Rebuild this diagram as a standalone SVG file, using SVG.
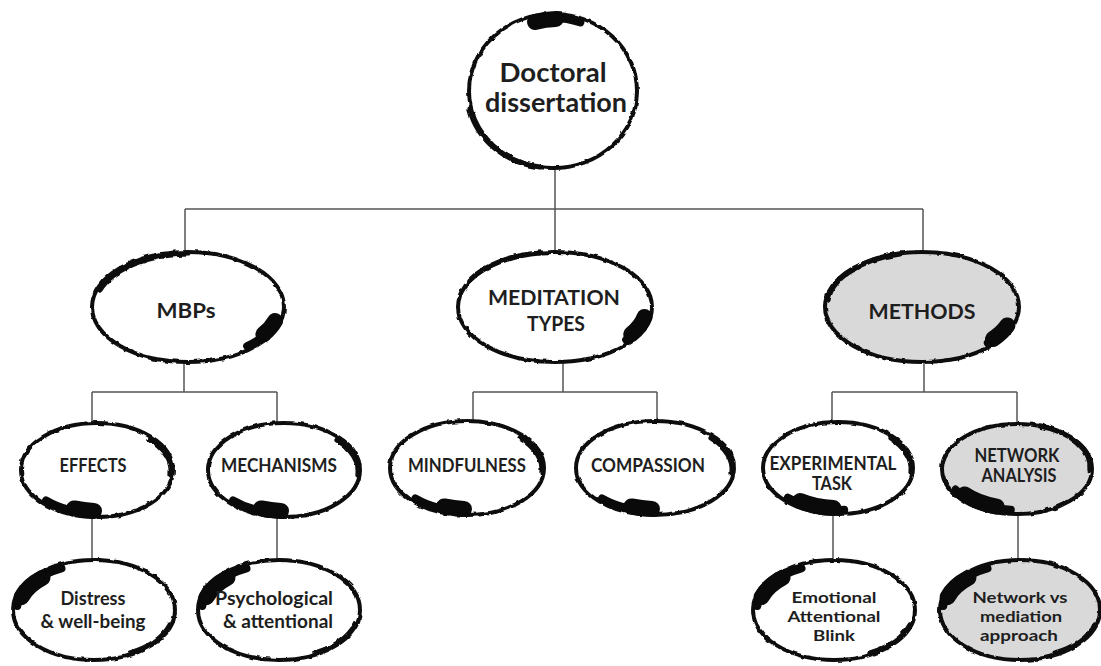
<svg xmlns="http://www.w3.org/2000/svg" width="1101" height="666" viewBox="0 0 1101 666">
  <defs>
    <!-- roughens thin ink rings into a dry-brush edge -->
    <filter id="brush" x="-10%" y="-10%" width="120%" height="120%">
      <feTurbulence type="fractalNoise" baseFrequency="0.14" numOctaves="2" seed="7" result="noise"/>
      <feDisplacementMap in="SourceGraphic" in2="noise" scale="3.2" xChannelSelector="R" yChannelSelector="G"/>
    </filter>
  </defs>
  <style>
    .bg { fill: #ffffff; }
    .white { fill: #ffffff; }
    .grey { fill: #d9d9d9; }
    .ring { fill: none; stroke: #111111; stroke-width: 4; }
    .blob { fill: none; stroke: #0a0a0a; stroke-linecap: round; }
    .thick { stroke-width: 16; }
    .mid { stroke-width: 8; }
    .thin { stroke-width: 5.2; }
    .brush { filter: url(#brush); }
    .connector { fill: none; stroke: #555555; stroke-width: 1.5; }
    .t { font-family: Lato, "Liberation Sans", sans-serif; font-weight: 700; fill: #1e1e1e; text-anchor: middle; }
    .t1 { font-size: 26px; }
    .t2 { font-size: 21px; }
    .t3 { font-size: 18px; }
    .t4 { font-size: 16px; }
  </style>

  <rect class="bg" x="0" y="0" width="1101" height="666"/>

  <!-- tree connectors -->
  <g id="connectors">
    <path class="connector" d="M555 168 V209 M185 209 H923 M185 209 V253 M555 209 V253 M923 209 V253"/>
    <path class="connector" d="M184 362 V392 M92 392 H277 M92 392 V422 M277 392 V422"/>
    <path class="connector" d="M563 362 V392 M473 392 H657 M473 392 V422 M657 392 V422"/>
    <path class="connector" d="M924 362 V392 M832 392 H1017 M832 392 V422 M1017 392 V424"/>
    <path class="connector" d="M92 517 V560 M277 517 V560 M833 513 V560 M1018 513 V560"/>
  </g>

  <!-- root -->
  <g id="node-doctoral-dissertation">
    <ellipse class="white" cx="553" cy="91" rx="84" ry="77"/>
    <g class="brush">
      <ellipse class="ring" cx="553" cy="91" rx="84" ry="77"/>
      <path class="blob thin" d="M470 110 A82 75 0 0 0 540 167"/>
    </g>
    <g>
      <path class="blob mid" d="M532.3 20.5 A80 73 0 0 1 580.4 22.4"/>
      <path class="blob thick" d="M535 22 A79 72 0 0 1 555.8 19.0"/>
    </g>
    <text class="t t1" x="553" y="82" textLength="107" lengthAdjust="spacingAndGlyphs">Doctoral</text>
    <text class="t t1" x="556" y="112" textLength="142" lengthAdjust="spacingAndGlyphs">dissertation</text>
  </g>

  <!-- second level -->
  <g id="node-mbps">
    <ellipse class="white" cx="188" cy="307" rx="96" ry="55"/>
    <g class="brush">
      <ellipse class="ring" cx="188" cy="307" rx="96" ry="55"/>
      <path class="blob thin" d="M100 290 A94 53 0 0 1 188 254"/>
    </g>
    <g>
      <path class="blob mid" d="M276.9 320.2 A92 51 0 0 1 247.1 346.1"/>
      <path class="blob thick" d="M275 321 A90 49 0 0 1 263.4 334.3"/>
    </g>
    <text class="t t2" x="186" y="318" textLength="59" lengthAdjust="spacingAndGlyphs">MBPs</text>
  </g>

  <g id="node-meditation-types">
    <ellipse class="white" cx="555" cy="307" rx="97" ry="55"/>
    <g class="brush">
      <ellipse class="ring" cx="555" cy="307" rx="97" ry="55"/>
      <path class="blob thin" d="M470 280 A95 53 0 0 1 540 253"/>
    </g>
    <g>
      <path class="blob mid" d="M646.6 315.9 A93 51 0 0 1 626.2 339.8"/>
      <path class="blob thick" d="M644.6 316.9 A91 49 0 0 1 631.2 334.3"/>
    </g>
    <text class="t t2" x="554" y="305" textLength="132" lengthAdjust="spacingAndGlyphs">MEDITATION</text>
    <text class="t t2" x="556" y="331" textLength="58" lengthAdjust="spacingAndGlyphs">TYPES</text>
  </g>

  <g id="node-methods">
    <ellipse class="grey" cx="922" cy="307" rx="97" ry="55"/>
    <g class="brush">
      <ellipse class="ring" cx="922" cy="307" rx="97" ry="55"/>
      <path class="blob thin" d="M828 300 A95 53 0 0 1 900 254"/>
    </g>
    <g>
      <path class="blob mid" d="M1009.4 324.4 A93 51 0 0 1 987.8 343.1"/>
      <path class="blob thick" d="M1007.4 325.4 A91 49 0 0 1 993 339"/>
    </g>
    <text class="t t2" x="922" y="319" textLength="107" lengthAdjust="spacingAndGlyphs">METHODS</text>
  </g>

  <!-- third level -->
  <g id="node-effects">
    <ellipse class="white" cx="97" cy="470" rx="76" ry="47"/>
    <g class="brush">
      <ellipse class="ring" cx="97" cy="470" rx="76" ry="47"/>
      <path class="blob thin" d="M150 440 A74 45 0 0 1 171 475"/>
    </g>
    <g>
      <path class="blob mid" d="M97 513 A72 43 0 0 1 46.1 500.4"/>
      <path class="blob thick" d="M94 511 A70 41 0 0 1 74 508.4"/>
    </g>
    <text class="t t3" x="93" y="472" textLength="67" lengthAdjust="spacingAndGlyphs">EFFECTS</text>
  </g>

  <g id="node-mechanisms">
    <ellipse class="white" cx="284" cy="470" rx="76" ry="47"/>
    <g class="brush">
      <ellipse class="ring" cx="284" cy="470" rx="76" ry="47"/>
      <path class="blob thin" d="M337 440 A74 45 0 0 1 358 475"/>
    </g>
    <g>
      <path class="blob mid" d="M284 513 A72 43 0 0 1 233.1 500.4"/>
      <path class="blob thick" d="M281 511 A70 41 0 0 1 261 508.4"/>
    </g>
    <text class="t t3" x="279" y="472" textLength="116" lengthAdjust="spacingAndGlyphs">MECHANISMS</text>
  </g>

  <g id="node-mindfulness">
    <ellipse class="white" cx="467" cy="468" rx="77" ry="47"/>
    <g class="brush">
      <ellipse class="ring" cx="467" cy="468" rx="77" ry="47"/>
      <path class="blob thin" d="M520 438 A75 45 0 0 1 542 473"/>
    </g>
    <g>
      <path class="blob mid" d="M467 511 A73 43 0 0 1 415.4 498.4"/>
      <path class="blob thick" d="M464 509 A71 41 0 0 1 444 506.4"/>
    </g>
    <text class="t t3" x="467" y="472" textLength="118" lengthAdjust="spacingAndGlyphs">MINDFULNESS</text>
  </g>

  <g id="node-compassion">
    <ellipse class="white" cx="655" cy="468" rx="79" ry="47"/>
    <g class="brush">
      <ellipse class="ring" cx="655" cy="468" rx="79" ry="47"/>
      <path class="blob thin" d="M710 438 A77 45 0 0 1 732 473"/>
    </g>
    <g>
      <path class="blob mid" d="M655 511 A75 43 0 0 1 602 498.4"/>
      <path class="blob thick" d="M652 509 A73 41 0 0 1 631.4 506.4"/>
    </g>
    <text class="t t3" x="648" y="472" textLength="114" lengthAdjust="spacingAndGlyphs">COMPASSION</text>
  </g>

  <g id="node-experimental-task">
    <ellipse class="white" cx="838" cy="468" rx="75" ry="46"/>
    <g class="brush">
      <ellipse class="ring" cx="838" cy="468" rx="75" ry="46"/>
      <path class="blob thin" d="M890 438 A73 44 0 0 1 911 473"/>
    </g>
    <g>
      <path class="blob mid" d="M844.2 509.8 A71 42 0 0 1 787.8 497.7"/>
      <path class="blob thick" d="M833.5 508 A69 40 0 0 1 800 501"/>
    </g>
    <text class="t t3" x="833" y="470" textLength="127" lengthAdjust="spacingAndGlyphs">EXPERIMENTAL</text>
    <text class="t t3" x="832" y="490" textLength="40" lengthAdjust="spacingAndGlyphs">TASK</text>
  </g>

  <g id="node-network-analysis">
    <ellipse class="grey" cx="1017" cy="469" rx="75" ry="45"/>
    <g class="brush">
      <ellipse class="ring" cx="1017" cy="469" rx="75" ry="45"/>
      <path class="blob thin" d="M1040 426 A73 43 0 0 1 1090 470"/>
    </g>
    <g>
      <path class="blob mid" d="M1010.8 509.8 A71 41 0 0 1 955.5 489.5"/>
      <path class="blob thick" d="M996.6 506.6 A69 39 0 0 1 964.6 494.4"/>
    </g>
    <text class="t t3" x="1017" y="462" textLength="85" lengthAdjust="spacingAndGlyphs">NETWORK</text>
    <text class="t t3" x="1019" y="482" textLength="75" lengthAdjust="spacingAndGlyphs">ANALYSIS</text>
  </g>

  <!-- fourth level -->
  <g id="node-distress-wellbeing">
    <ellipse class="white" cx="94" cy="610" rx="81" ry="50"/>
    <g class="brush">
      <ellipse class="ring" cx="94" cy="610" rx="81" ry="50"/>
      <path class="blob thin" d="M170 625 A79 48 0 0 1 130 653"/>
    </g>
    <g>
      <path class="blob mid" d="M17.3 606 A77 46 0 0 1 61.5 568.3"/>
      <path class="blob thick" d="M21.6 597.1 A75 44 0 0 1 42.5 577.8"/>
    </g>
    <text class="t t3" x="93" y="605" textLength="65" lengthAdjust="spacingAndGlyphs">Distress</text>
    <text class="t t3" x="93" y="628" textLength="105" lengthAdjust="spacingAndGlyphs">&amp; well-being</text>
  </g>

  <g id="node-psychological-attentional">
    <ellipse class="white" cx="279" cy="610" rx="81" ry="50"/>
    <g class="brush">
      <ellipse class="ring" cx="279" cy="610" rx="81" ry="50"/>
      <path class="blob thin" d="M355 625 A79 48 0 0 1 315 653"/>
    </g>
    <g>
      <path class="blob mid" d="M202.3 606 A77 46 0 0 1 246.5 568.3"/>
      <path class="blob thick" d="M206.6 597.1 A75 44 0 0 1 227.5 577.8"/>
    </g>
    <text class="t t3" x="274" y="605" textLength="118" lengthAdjust="spacingAndGlyphs">Psychological</text>
    <text class="t t3" x="278" y="628" textLength="110" lengthAdjust="spacingAndGlyphs">&amp; attentional</text>
  </g>

  <g id="node-emotional-attentional-blink">
    <ellipse class="white" cx="834" cy="610" rx="81" ry="50"/>
    <g class="brush">
      <ellipse class="ring" cx="834" cy="610" rx="81" ry="50"/>
      <path class="blob thin" d="M910 625 A79 48 0 0 1 870 653"/>
    </g>
    <g>
      <path class="blob mid" d="M757.3 606 A77 46 0 0 1 801.5 568.3"/>
      <path class="blob thick" d="M761.6 597.1 A75 44 0 0 1 782.5 577.8"/>
    </g>
    <text class="t t4" x="834" y="603" textLength="85" lengthAdjust="spacingAndGlyphs">Emotional</text>
    <text class="t t4" x="834" y="622" textLength="93" lengthAdjust="spacingAndGlyphs">Attentional</text>
    <text class="t t4" x="834" y="641" textLength="42" lengthAdjust="spacingAndGlyphs">Blink</text>
  </g>

  <g id="node-network-vs-mediation">
    <ellipse class="grey" cx="1020" cy="610" rx="80" ry="50"/>
    <g class="brush">
      <ellipse class="ring" cx="1020" cy="610" rx="80" ry="50"/>
      <path class="blob thin" d="M1095 625 A78 48 0 0 1 1055 653"/>
    </g>
    <g>
      <path class="blob mid" d="M943.3 606 A76 46 0 0 1 987.5 568.3"/>
      <path class="blob thick" d="M947.6 597.1 A74 44 0 0 1 968.5 577.8"/>
    </g>
    <text class="t t4" x="1020" y="603" textLength="95" lengthAdjust="spacingAndGlyphs">Network vs</text>
    <text class="t t4" x="1021" y="622" textLength="82" lengthAdjust="spacingAndGlyphs">mediation</text>
    <text class="t t4" x="1019" y="641" textLength="78" lengthAdjust="spacingAndGlyphs">approach</text>
  </g>
</svg>
